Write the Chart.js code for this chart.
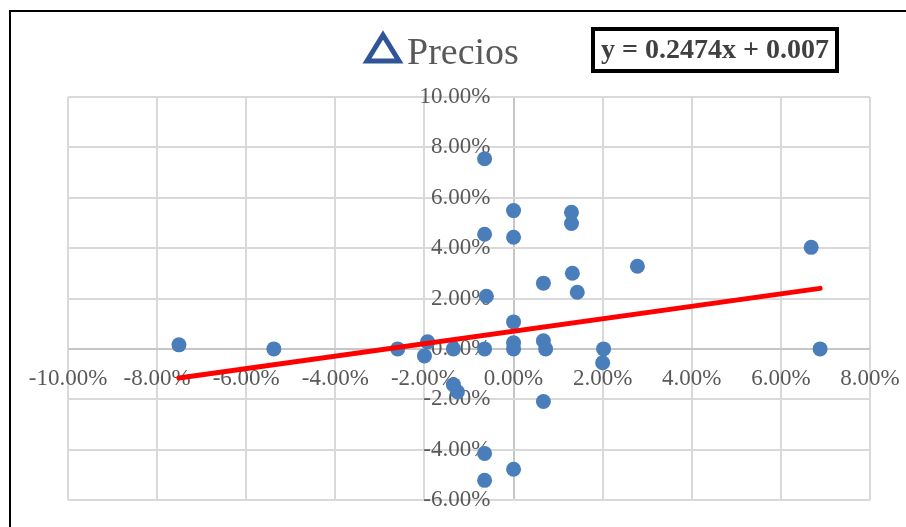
<!DOCTYPE html>
<html>
<head>
<meta charset="utf-8">
<title>Precios</title>
<script src="https://cdn.jsdelivr.net/npm/chart.js@4/dist/chart.umd.min.js"></script>
<style>
  html, body { margin: 0; padding: 0; background: #ffffff; }
  #wrap { position: relative; width: 906px; height: 527px; overflow: hidden; }
  #frame { position: absolute; left: 9px; top: 10px; width: 920px; height: 540px;
           border-left: 2px solid #000; border-top: 2px solid #000; }
  canvas { position: absolute; left: 0; top: 0; }
</style>
</head>
<body>
<div id="wrap">
  <div id="frame"></div>
  <canvas id="c" width="906" height="527"></canvas>
</div>
<script>
// Observations, in percent (x: explanatory variable, y: Precios)
const xValues = [-7.51, -5.38, -2.60, -2.00, -1.93, -1.35, -1.35, -1.26, -0.65, -0.65,
                  -0.65, -0.61, -0.65, -0.65, 0.00, 0.00, 0.00, 0.00, 0.00, 0.00,
                  0.67, 0.67, 0.72, 0.67, 1.30, 1.30, 1.32, 1.43, 2.02, 2.00,
                  2.78, 6.68, 6.88];
const yValues = [0.16, 0.00, 0.00, -0.28, 0.28, 0.00, -1.42, -1.70, 0.00, 7.55,
                  4.55, 2.09, -4.15, -5.22, 5.49, 4.43, 1.07, 0.24, 0.00, -4.78,
                  2.61, 0.32, 0.00, -2.09, 5.42, 4.98, 3.00, 2.25, 0.00, -0.55,
                  3.28, 4.03, 0.00];

// Linear trendline y = slope·x + intercept (fractions)
const slope = 0.2474;
const intercept = 0.007;
const equationText = 'y = 0.2474x + 0.007';
const seriesName = 'Precios';

// Axis ticks, in percent
const xTickValues = [-10, -8, -6, -4, -2, 0, 2, 4, 6, 8];
const yTickValues = [-6, -4, -2, 0, 2, 4, 6, 8, 10];

const points = xValues.map((x, i) => ({ x: x, y: yValues[i] }));
const xMin = Math.min(...xValues);
const xMax = Math.max(...xValues);
const trend = [xMin, xMax].map(x => ({ x: x, y: slope * x + intercept * 100 }));

const fmt = v => Number(v).toFixed(2) + '%';
const tickFont = { family: '"Liberation Serif", "Times New Roman", serif', size: 23 };

// Legend entry and trendline label box above the plot
const overlay = {
  id: 'overlay',
  afterDraw(chart) {
    const ctx = chart.ctx;
    ctx.save();
    // legend marker: outlined triangle
    ctx.beginPath();
    ctx.moveTo(383, 35);
    ctx.lineTo(399, 61);
    ctx.lineTo(367, 61);
    ctx.closePath();
    ctx.lineWidth = 5;
    ctx.lineJoin = 'miter';
    ctx.strokeStyle = '#2F5597';
    ctx.stroke();
    ctx.fillStyle = '#595959';
    ctx.font = '38px "Liberation Serif", "Times New Roman", serif';
    ctx.textAlign = 'left';
    ctx.textBaseline = 'alphabetic';
    ctx.fillText(seriesName, 407, 64);
    // equation box
    ctx.fillStyle = '#ffffff';
    ctx.fillRect(593, 29, 244, 42);
    ctx.lineWidth = 4;
    ctx.strokeStyle = '#000000';
    ctx.strokeRect(593, 29, 244, 42);
    ctx.fillStyle = '#404040';
    ctx.font = 'bold 28px "Liberation Serif", "Times New Roman", serif';
    ctx.textAlign = 'center';
    ctx.textBaseline = 'middle';
    ctx.fillText(equationText, 715, 51);
    ctx.restore();
  }
};

new Chart(document.getElementById('c'), {
  type: 'scatter',
  data: {
    datasets: [
      {
        label: seriesName,
        data: points,
        backgroundColor: '#4a7ebb',
        borderColor: '#4a7ebb',
        borderWidth: 0,
        pointRadius: 7.5,
        pointHoverRadius: 7.5,
        order: 2
      },
      {
        label: 'Lineal (' + seriesName + ')',
        type: 'line',
        data: trend,
        borderColor: '#ff0000',
        borderWidth: 5,
        borderCapStyle: 'round',
        pointRadius: 0,
        fill: false,
        order: 1
      }
    ]
  },
  options: {
    responsive: false,
    animation: false,
    layout: { padding: { left: 68, top: 97, right: 36, bottom: 27 } },
    plugins: {
      legend: { display: false },
      tooltip: { enabled: false }
    },
    scales: {
      x: {
        type: 'linear',
        // labels hang just below the zero line
        position: { y: -0.63 },
        min: -10,
        max: 8,
        afterBuildTicks: s => { s.ticks = xTickValues.map(v => ({ value: v })); },
        grid: {
          color: ctx => ctx.tick && ctx.tick.value === 0 ? '#c6c6c6' : '#d9d9d9',
          lineWidth: 2,
          drawTicks: false
        },
        border: { display: false },
        ticks: {
          callback: v => fmt(v),
          color: '#595959',
          font: tickFont,
          padding: 0,
          maxRotation: 0,
          autoSkip: false
        }
      },
      y: {
        type: 'linear',
        // labels sit a little left of the zero line
        position: { x: -0.52 },
        min: -6,
        max: 10,
        afterBuildTicks: s => { s.ticks = yTickValues.map(v => ({ value: v })); },
        grid: {
          color: ctx => ctx.tick && ctx.tick.value === 0 ? '#c6c6c6' : '#d9d9d9',
          lineWidth: 2,
          drawTicks: false
        },
        border: { display: false },
        ticks: {
          callback: v => fmt(v),
          color: '#595959',
          font: tickFont,
          padding: 0,
          autoSkip: false
        }
      }
    }
  },
  plugins: [overlay]
});
</script>
</body>
</html>
